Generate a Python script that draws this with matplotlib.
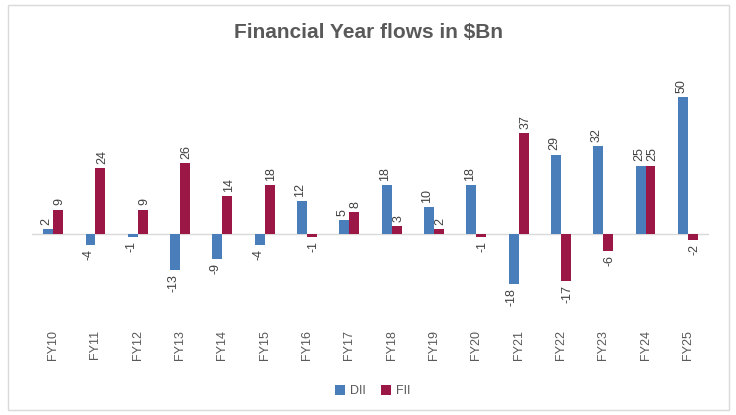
import matplotlib.pyplot as plt
import numpy as np
from matplotlib.patches import Rectangle

# Financial year flows in $Bn
years = ["FY10", "FY11", "FY12", "FY13", "FY14", "FY15", "FY16", "FY17",
         "FY18", "FY19", "FY20", "FY21", "FY22", "FY23", "FY24", "FY25"]
dii = [2, -4, -1, -13, -9, -4, 12, 5, 18, 10, 18, -18, 29, 32, 25, 50]
fii = [9, 24, 9, 26, 14, 18, -1, 8, 3, 2, -1, 37, -17, -6, 25, -2]

dii_color = "#4a7ebb"
fii_color = "#9b1746"
text_color = "#595959"

plt.rcParams['font.family'] = ['Liberation Sans', 'DejaVu Sans']

fig = plt.figure(figsize=(7.36, 4.15), dpi=100)

# light grey frame round the chart
fig.patches.append(Rectangle((8 / 736, 1 - 410 / 415), 721 / 736, 405 / 415,
                             transform=fig.transFigure, fill=False,
                             edgecolor="#d9d9d9", linewidth=1))

ax = fig.add_axes([32 / 736, 1 - 322 / 415, 677 / 736, 262 / 415])
x = np.arange(len(years))
w = 0.235

b1 = ax.bar(x - w / 2, dii, w, color=dii_color, label="DII")
b2 = ax.bar(x + w / 2, fii, w, color=fii_color, label="FII")

ax.axhline(0, color="#d9d9d9", linewidth=1, zorder=0)

# value labels, nudged a touch apart so neighbouring labels don't collide
for bars, dx in ((b1, -1.2), (b2, 1.2)):
    for bar in bars:
        v = bar.get_height()
        cx = bar.get_x() + bar.get_width() / 2
        if v >= 0:
            ax.annotate(str(int(v)), (cx, v), xytext=(dx, 3), textcoords="offset points",
                        ha="center", va="bottom", rotation=90, fontsize=9, color="#404040")
        else:
            ax.annotate(str(int(v)), (cx, v), xytext=(dx, -3), textcoords="offset points",
                        ha="center", va="top", rotation=90, fontsize=9, color="#404040")

ax.set_xlim(-0.5, len(years) - 0.5)
ax.set_ylim(-32, 63.5)
ax.set_yticks([])
ax.set_xticks(x)
ax.set_xticklabels(years, rotation=90, fontsize=9, color=text_color)
ax.tick_params(axis="x", length=0, pad=6)
for s in ax.spines.values():
    s.set_visible(False)

fig.text(369 / 736, 1 - 33 / 415, "Financial Year flows in $Bn", ha="center", va="center",
         fontsize=15, fontweight="bold", color=text_color)

fig.legend(handles=[b1, b2], labels=["DII", "FII"], loc="center",
           bbox_to_anchor=(373 / 736, 1 - 391 / 415), ncol=2, frameon=False,
           fontsize=9, labelcolor=text_color, handlelength=0.8, handleheight=0.8,
           handletextpad=0.4, columnspacing=1.2)

fig.savefig("out.png", dpi=100)
